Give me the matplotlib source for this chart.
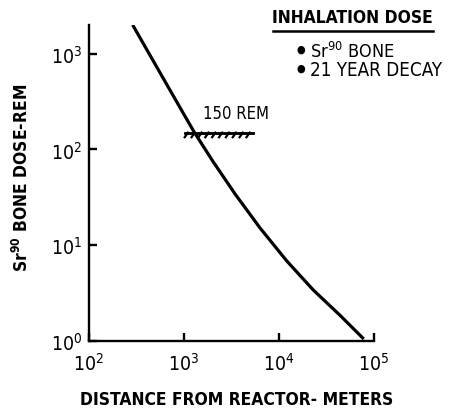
import numpy as np
import matplotlib
matplotlib.use('Agg')
import matplotlib.pyplot as plt
import matplotlib.patheffects as pe
from matplotlib.ticker import FixedLocator, FuncFormatter, NullLocator

# Sr-90 bone dose (inhalation, 21 year decay) versus distance
distance_m = [288, 562, 1000, 1280, 2000, 3470, 6300, 12000, 23000, 44000, 78000]
dose_rem = [2000, 628, 232, 152, 76, 34, 15.2, 6.9, 3.4, 1.85, 1.05]

limit_rem = 150
limit_span = [1020, 5300]
limit_label_x = 1585

x_ticks = [1e2, 1e3, 1e4, 1e5]
y_ticks = [1e0, 1e1, 1e2, 1e3]

plt.rcParams['font.family'] = ['DejaVu Sans']
plt.rcParams['font.stretch'] = 'condensed'

fig = plt.figure(figsize=(4.51, 4.10), dpi=100)
ax = fig.add_axes([89 / 451, 68 / 410, 285 / 451, 316 / 410])

ax.plot(distance_m, dose_rem, color='black', lw=2.3, solid_capstyle='butt')

# limit line with hatching underneath
ax.plot(limit_span, [limit_rem, limit_rem], color='black', lw=1.8,
        path_effects=[pe.Stroke(linewidth=1.8, foreground='black'),
                      pe.withTickedStroke(angle=-125, spacing=4.5, length=0.9, linewidth=1.6)])
ax.text(limit_label_x, limit_rem * 1.28, '150 REM', fontsize=12, ha='left', va='bottom')

ax.set_xscale('log')
ax.set_yscale('log')
ax.set_xlim(1e2, 1e5)
ax.set_ylim(1e0, 10 ** 3.3)

for s in ['top', 'right']:
    ax.spines[s].set_visible(False)
for s in ['left', 'bottom']:
    ax.spines[s].set_linewidth(1.7)

fmt = FuncFormatter(lambda v, p: r'$\mathregular{10^{%d}}$' % round(np.log10(v)))
ax.xaxis.set_major_locator(FixedLocator(x_ticks))
ax.yaxis.set_major_locator(FixedLocator(y_ticks))
ax.xaxis.set_minor_locator(NullLocator())
ax.yaxis.set_minor_locator(NullLocator())
ax.xaxis.set_major_formatter(fmt)
ax.yaxis.set_major_formatter(fmt)
ax.tick_params(direction='in', length=6, width=1.7, labelsize=14)
ax.tick_params(axis='x', pad=8)
ax.tick_params(axis='y', pad=5)

ax.set_xlabel('DISTANCE FROM REACTOR- METERS', fontsize=12.5, fontweight='bold')
ax.xaxis.set_label_coords(0.518, -0.155)
ax.set_ylabel(r'$\mathregular{Sr^{90}}$ BONE DOSE-REM', fontsize=12.5, fontweight='bold')
ax.yaxis.set_label_coords(-0.2, 0.52)

# legend-style annotation
fig.text(352 / 451, 1 - 18 / 410, 'INHALATION DOSE', fontsize=12.5, fontweight='bold',
         ha='center', va='center')
fig.add_artist(plt.Line2D([273 / 451, 433 / 451], [1 - 32 / 410, 1 - 32 / 410],
                          color='black', lw=1.8))
fig.text(301 / 451, 1 - 50 / 410, '●', fontsize=8, ha='center', va='center',
         family=['DejaVu Sans'])
fig.text(310 / 451, 1 - 52 / 410, r'$\mathregular{Sr^{90}}$ BONE', fontsize=13,
         ha='left', va='center')
fig.text(301 / 451, 1 - 69 / 410, '●', fontsize=8, ha='center', va='center',
         family=['DejaVu Sans'])
fig.text(310 / 451, 1 - 71 / 410, '21 YEAR DECAY', fontsize=13.5,
         ha='left', va='center')

fig.savefig('out.png', dpi=100)
